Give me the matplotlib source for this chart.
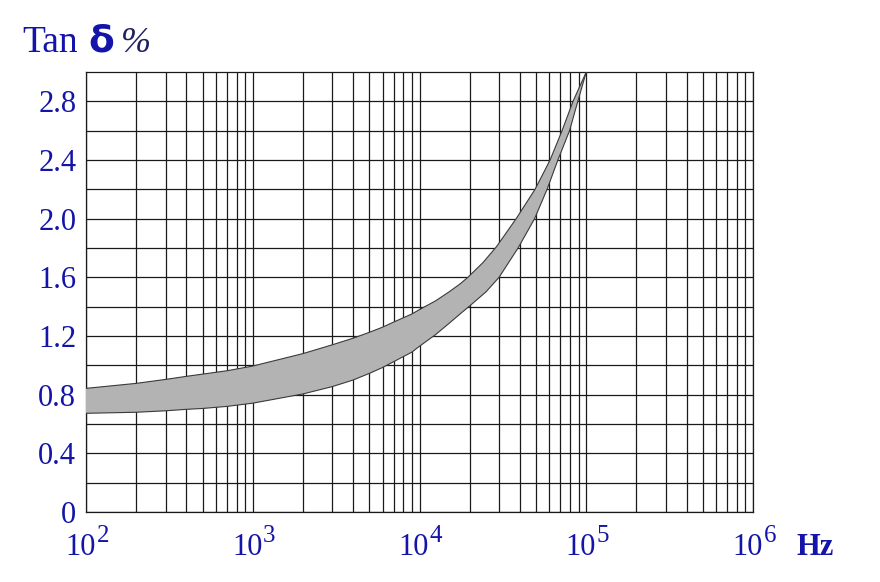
import matplotlib
matplotlib.use('Agg')
import matplotlib.pyplot as plt
import numpy as np

# Tan delta band vs frequency
freq_upper = [100, 200, 300, 400, 500, 700, 1e3, 2e3, 3e3, 4e3, 5e3, 6e3, 7e3, 9e3,
              1e4, 1.25e4, 1.5e4, 1.75e4, 1.95e4, 2.4e4, 2.9e4, 3.8e4, 4.93e4, 6.07e4,
              7.16e4, 8.33e4, 1e5]
tan_upper = [0.843, 0.877, 0.904, 0.925, 0.94, 0.963, 0.995, 1.08, 1.14, 1.185, 1.225,
             1.26, 1.295, 1.35, 1.38, 1.44, 1.50, 1.555, 1.60, 1.70, 1.81, 2.00, 2.20,
             2.40, 2.60, 2.80, 3.00]

freq_lower = [100, 200, 300, 400, 500, 700, 1e3, 2e3, 3e3, 4e3, 5e3, 6e3, 7e3, 9e3,
              1e4, 1.25e4, 1.5e4, 1.75e4, 2e4, 2.5e4, 3e4, 3.9e4, 4.9e4, 5.82e4, 6.76e4,
              7.94e4, 8.9e4, 1e5]
tan_lower = [0.673, 0.68, 0.69, 0.70, 0.706, 0.72, 0.742, 0.805, 0.855, 0.90, 0.945,
             0.985, 1.025, 1.09, 1.13, 1.21, 1.285, 1.35, 1.405, 1.50, 1.60, 1.80, 2.00,
             2.20, 2.40, 2.60, 2.80, 3.00]

y_ticks = [0, 0.4, 0.8, 1.2, 1.6, 2.0, 2.4, 2.8]
y_labels = ['0', '0.4', '0.8', '1.2', '1.6', '2.0', '2.4', '2.8']
x_decades = [2, 3, 4, 5, 6]

blue = '#1414a8'
serif = 'Liberation Serif'

fig = plt.figure(figsize=(8.8, 5.82), dpi=100)
ax = fig.add_axes([86 / 880, 70 / 582, 667 / 880, 440 / 582])

ax.set_xscale('log')
ax.set_xlim(1e2, 1e6)
ax.set_ylim(0, 3.0)

# band between the two limit curves
poly_x = list(freq_upper) + list(freq_lower[::-1])
poly_y = list(tan_upper) + list(tan_lower[::-1])
ax.fill(poly_x, poly_y, facecolor='#b3b3b3', edgecolor='none', zorder=3)
ax.plot(freq_upper, tan_upper, color='#3a3a3a', lw=0.8, zorder=4)
ax.plot(freq_lower, tan_lower, color='#3a3a3a', lw=0.8, zorder=4)

# grid
ax.set_xticks([10.0 ** d for d in x_decades])
ax.set_xticklabels([])
minor_x = [m * 10.0 ** d for d in x_decades[:-1] for m in range(2, 10)]
ax.set_xticks(minor_x, minor=True)
ax.xaxis.set_minor_formatter(plt.NullFormatter())
ax.set_yticks(y_ticks)
ax.set_yticklabels(y_labels)
ax.set_yticks(np.arange(0.2, 3.0, 0.4), minor=True)
ax.grid(which='both', color='#1a1a1a', lw=0.9, zorder=1)
ax.set_axisbelow(True)
for s in ax.spines.values():
    s.set_color('#1a1a1a')
    s.set_linewidth(0.9)

ax.tick_params(which='both', length=0)
ax.tick_params(axis='y', pad=7)
for lab in ax.get_yticklabels():
    lab.set_fontfamily(serif)
    lab.set_fontsize(22)
    lab.set_color(blue)

# decade labels 10^n drawn as base + raised exponent
for d in x_decades:
    ax.annotate('10', xy=(10.0 ** d, 0), xycoords=('data', 'axes fraction'),
                xytext=(7, -31), textcoords='offset points', ha='right',
                va='baseline', fontsize=22, family=serif, color=blue)
    ax.annotate(str(d), xy=(10.0 ** d, 0), xycoords=('data', 'axes fraction'),
                xytext=(7.5, -21.5), textcoords='offset points', ha='left',
                va='baseline', fontsize=18, family=serif, color=blue)

fig.text(796 / 880, 1 - 555 / 582, 'Hz', fontsize=22, fontweight='bold',
         family=serif, color=blue, va='baseline')

# y-axis title
fig.text(22 / 880, 1 - 52 / 582, 'Tan', fontsize=27, family=serif,
         color=blue, va='baseline')
fig.text(88 / 880, 1 - 52 / 582, 'δ', fontsize=27, fontweight='bold',
         family='DejaVu Sans', color=blue, va='baseline')
fig.text(121 / 880, 1 - 52 / 582, '%', fontsize=26, style='italic',
         family=serif, color='#202060', va='baseline')

fig.savefig('out.png', dpi=100, facecolor='white')
